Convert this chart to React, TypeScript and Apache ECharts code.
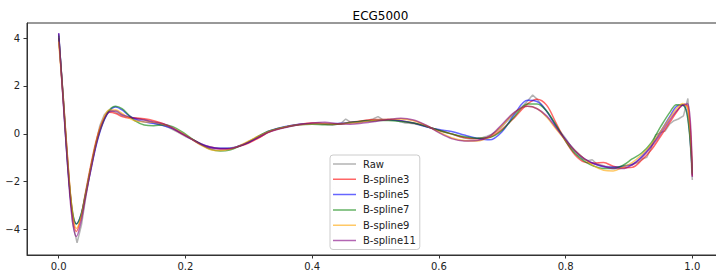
import React, { useEffect, useRef } from "react";
import * as echarts from "echarts";

const TITLE = "ECG5000";
const SERIES_NAMES = ["Raw", "B-spline3", "B-spline5", "B-spline7", "B-spline9", "B-spline11"];
const SERIES_COLORS = ["#808080", "#ff0000", "#0000ff", "#008000", "#ffa500", "#800080"];
const X_TICKS = [0, 0.2, 0.4, 0.6, 0.8, 1.0];
const Y_TICKS = [-4, -2, 0, 2, 4];

const RAW_T = [
  0.0, 0.007, 0.014, 0.022, 0.029, 0.036, 0.043, 0.05, 0.058, 0.065,
  0.072, 0.079, 0.086, 0.094, 0.101, 0.108, 0.115, 0.122, 0.129, 0.137,
  0.144, 0.151, 0.158, 0.165, 0.173, 0.18, 0.187, 0.194, 0.201, 0.209,
  0.216, 0.223, 0.23, 0.237, 0.245, 0.252, 0.259, 0.266, 0.273, 0.281,
  0.288, 0.295, 0.302, 0.309, 0.317, 0.324, 0.331, 0.338, 0.345, 0.353,
  0.36, 0.367, 0.374, 0.381, 0.388, 0.396, 0.403, 0.41, 0.417, 0.424,
  0.432, 0.439, 0.446, 0.453, 0.46, 0.468, 0.475, 0.482, 0.489, 0.496,
  0.504, 0.511, 0.518, 0.525, 0.532, 0.54, 0.547, 0.554, 0.561, 0.568,
  0.576, 0.583, 0.59, 0.597, 0.604, 0.612, 0.619, 0.626, 0.633, 0.64,
  0.647, 0.655, 0.662, 0.669, 0.676, 0.683, 0.691, 0.698, 0.705, 0.712,
  0.719, 0.727, 0.734, 0.741, 0.748, 0.755, 0.763, 0.77, 0.777, 0.784,
  0.791, 0.799, 0.806, 0.813, 0.82, 0.827, 0.835, 0.842, 0.849, 0.856,
  0.863, 0.871, 0.878, 0.885, 0.892, 0.899, 0.906, 0.914, 0.921, 0.928,
  0.935, 0.942, 0.95, 0.957, 0.964, 0.971, 0.978, 0.986, 0.993, 1.0,
];
const RAW_V = [
  4.15, 1.5, -1.3, -3.7, -4.55, -3.8, -2.6, -1.5, -0.5, 0.35,
  0.8, 0.98, 0.95, 0.85, 0.75, 0.7, 0.68, 0.65, 0.62, 0.58,
  0.5, 0.45, 0.4, 0.35, 0.27, 0.18, 0.08, -0.02, -0.12, -0.22,
  -0.32, -0.42, -0.5, -0.55, -0.58, -0.6, -0.6, -0.6, -0.58, -0.54,
  -0.48, -0.42, -0.33, -0.24, -0.14, -0.04, 0.08, 0.15, 0.2, 0.25,
  0.3, 0.33, 0.36, 0.4, 0.42, 0.43, 0.44, 0.45, 0.42, 0.38,
  0.36, 0.4, 0.45, 0.62, 0.5, 0.48, 0.52, 0.55, 0.58, 0.62,
  0.72, 0.6, 0.6, 0.6, 0.57, 0.5, 0.45, 0.44, 0.42, 0.38,
  0.33, 0.28, 0.22, 0.16, 0.1, 0.05, 0.0, -0.06, -0.12, -0.17,
  -0.2, -0.2, -0.18, -0.15, -0.1, -0.02, 0.1, 0.25, 0.45, 0.65,
  0.85, 1.02, 1.2, 1.4, 1.62, 1.45, 1.2, 0.95, 0.68, 0.4,
  0.12, -0.15, -0.42, -0.68, -0.9, -1.05, -1.12, -1.08, -1.25, -1.3,
  -1.35, -1.38, -1.38, -1.36, -1.33, -1.3, -1.27, -1.2, -1.05, -0.98,
  -0.6, -0.05, 0.05, 0.12, 0.4, 0.55, 0.62, 0.75, 1.48, -1.93,
];

const T = [
  0, 0.007, 0.014, 0.021, 0.028, 0.035, 0.042, 0.05, 0.06, 0.07,
  0.08, 0.09, 0.1, 0.11, 0.12, 0.135, 0.15, 0.165, 0.18, 0.195,
  0.21, 0.225, 0.24, 0.255, 0.27, 0.285, 0.3, 0.315, 0.33, 0.345,
  0.36, 0.38, 0.4, 0.42, 0.44, 0.46, 0.48, 0.5, 0.52, 0.54,
  0.56, 0.58, 0.6, 0.62, 0.64, 0.66, 0.68, 0.7, 0.72, 0.74,
  0.755, 0.77, 0.785, 0.8, 0.815, 0.83, 0.845, 0.86, 0.875, 0.89,
  0.905, 0.92, 0.935, 0.95, 0.965, 0.975, 0.985, 0.993, 1.0,
];
const BSPLINE3 = [
  4.0, 1.6, -1.0, -3.2, -4.08, -3.5, -2.5, -1.4, -0.2, 0.55,
  0.9, 0.85, 0.72, 0.66, 0.66, 0.63, 0.55, 0.42, 0.22, 0.0,
  -0.22, -0.42, -0.55, -0.62, -0.62, -0.52, -0.38, -0.18, 0.05, 0.2,
  0.3, 0.4, 0.45, 0.42, 0.4, 0.48, 0.55, 0.6, 0.6, 0.55,
  0.45, 0.32, 0.15, 0.0, -0.15, -0.2, -0.14, 0.2, 0.7, 1.25,
  1.45, 1.2, 0.45, -0.3, -0.88, -1.18, -1.22, -1.2, -1.35, -1.42,
  -1.4, -1.1, -0.68, -0.1, 0.5, 0.9, 1.2, 1.15, -1.75,
];
const BSPLINE5 = [
  4.2, 1.5, -1.2, -3.2, -3.76, -3.4, -2.6, -1.6, -0.4, 0.45,
  0.95, 1.12, 1.0, 0.78, 0.62, 0.5, 0.43, 0.35, 0.22, 0.02,
  -0.22, -0.42, -0.56, -0.6, -0.6, -0.5, -0.35, -0.12, 0.1, 0.22,
  0.32, 0.4, 0.42, 0.42, 0.43, 0.47, 0.52, 0.56, 0.58, 0.55,
  0.45, 0.3, 0.18, 0.1, -0.05, -0.18, -0.25, 0.1, 0.85, 1.4,
  1.35, 0.95, 0.3, -0.25, -0.7, -1.05, -1.25, -1.37, -1.4, -1.36,
  -1.28, -0.95, -0.5, 0.1, 0.75, 1.15, 1.2, 0.7, -1.7,
];
const BSPLINE7 = [
  4.1, 1.6, -1.1, -3.1, -3.76, -3.4, -2.55, -1.5, -0.3, 0.5,
  1.0, 1.15, 1.05, 0.8, 0.55, 0.37, 0.34, 0.38, 0.3, 0.08,
  -0.2, -0.45, -0.65, -0.72, -0.68, -0.52, -0.32, -0.1, 0.1, 0.22,
  0.3, 0.38, 0.4, 0.38, 0.4, 0.47, 0.54, 0.56, 0.56, 0.52,
  0.45, 0.32, 0.15, 0.0, -0.12, -0.18, -0.15, 0.15, 0.75, 1.25,
  1.25, 0.95, 0.35, -0.3, -0.82, -1.15, -1.35, -1.45, -1.45, -1.32,
  -1.05, -0.8, -0.38, 0.3, 0.92, 1.22, 1.2, 0.6, -1.65,
];
const BSPLINE9 = [
  3.85, 1.5, -1.0, -3.1, -3.95, -3.5, -2.6, -1.5, -0.25, 0.6,
  1.0, 1.0, 0.85, 0.68, 0.55, 0.5, 0.48, 0.4, 0.25, 0.03,
  -0.22, -0.48, -0.66, -0.7, -0.64, -0.5, -0.3, -0.1, 0.08, 0.2,
  0.3, 0.38, 0.42, 0.43, 0.42, 0.44, 0.5, 0.56, 0.6, 0.62,
  0.55, 0.35, 0.08, -0.16, -0.28, -0.3, -0.12, 0.35, 0.9, 1.15,
  1.05, 0.7, 0.2, -0.28, -0.7, -1.05, -1.35, -1.52, -1.55, -1.4,
  -1.2, -0.87, -0.45, 0.1, 0.7, 1.05, 1.27, 1.0, -1.7,
];
const BSPLINE11 = [
  4.2, 1.4, -1.3, -3.5, -4.29, -3.7, -2.7, -1.6, -0.35, 0.5,
  0.92, 0.95, 0.8, 0.72, 0.65, 0.58, 0.5, 0.42, 0.25, 0.0,
  -0.22, -0.45, -0.6, -0.63, -0.62, -0.52, -0.35, -0.15, 0.05, 0.18,
  0.28, 0.38, 0.45, 0.48, 0.42, 0.4, 0.45, 0.52, 0.6, 0.65,
  0.58, 0.36, 0.05, -0.2, -0.3, -0.28, -0.1, 0.4, 0.92, 1.15,
  1.05, 0.75, 0.25, -0.25, -0.72, -1.05, -1.25, -1.35, -1.45, -1.45,
  -1.3, -1.0, -0.55, 0.0, 0.6, 0.95, 1.2, 1.25, -1.8,
];

const SPLINES = [BSPLINE3, BSPLINE5, BSPLINE7, BSPLINE9, BSPLINE11];

const LEGEND_LINE_ICON =
  "path://M0 0h0.05v0.05h-0.05z M0 5.25h23v1.5h-23z M22.95 11.95h0.05v0.05h-0.05z";

export default function App() {
  const ref = useRef<HTMLDivElement>(null);
  useEffect(() => {
    if (!ref.current) return;
    const chart = echarts.init(ref.current, null, { renderer: "svg" });
    const font = "DejaVu Sans";
    const spine = "#333";
    const mk = (name: string, color: string, xs: number[], ys: number[], smooth: number | boolean) => ({
      type: "line",
      name,
      data: xs.map((t, i) => [t, ys[i]]),
      showSymbol: false,
      symbol: "none",
      smooth,
      lineStyle: { color, width: 1.5, opacity: 0.6 },
      itemStyle: { color, opacity: 0.6 },
      emphasis: { disabled: true },
    });
    const series: any[] = [mk(SERIES_NAMES[0], SERIES_COLORS[0], RAW_T, RAW_V, false)];
    SPLINES.forEach((vals, k) => {
      series.push(mk(SERIES_NAMES[k + 1], SERIES_COLORS[k + 1], T, vals, 0.35));
    });
    chart.setOption({
      animation: false,
      title: {
        text: TITLE,
        left: 375.5,
        textAlign: "center",
        top: 5,
        textStyle: { fontSize: 12, fontWeight: "normal", color: "#000", fontFamily: font },
      },
      grid: {
        left: 27,
        top: 23,
        right: 6,
        bottom: 23,
        show: true,
        borderColor: spine,
        borderWidth: 1,
        backgroundColor: "rgba(0,0,0,0)",
      },
      xAxis: {
        type: "value",
        min: -0.05,
        max: 1.05,
        axisLine: { show: true, onZero: false, lineStyle: { color: spine, width: 1 } },
        splitLine: { show: false },
        axisTick: { show: true, customValues: X_TICKS, length: 3.5, lineStyle: { color: spine } },
        axisLabel: {
          customValues: X_TICKS,
          formatter: (v: number) => v.toFixed(1),
          margin: 6,
          fontSize: 10,
          color: "#222",
          fontFamily: font,
        },
      },
      yAxis: {
        type: "value",
        min: -5.06,
        max: 4.63,
        axisLine: { show: true, onZero: false, lineStyle: { color: spine, width: 1 } },
        splitLine: { show: false },
        axisTick: { show: true, customValues: Y_TICKS, length: 3.5, lineStyle: { color: spine } },
        axisLabel: {
          customValues: Y_TICKS,
          formatter: (v: number) => (v < 0 ? "\u2212" + Math.abs(v) : String(v)),
          margin: 7,
          fontSize: 10,
          color: "#222",
          fontFamily: font,
        },
      },
      legend: {
        orient: "vertical",
        left: 330,
        top: 155,
        itemWidth: 23,
        itemHeight: 12,
        itemGap: 3.3,
        padding: [3, 4, 3, 3],
        backgroundColor: "rgba(255,255,255,0.8)",
        borderColor: "#cccccc",
        borderWidth: 1,
        borderRadius: 3,
        textStyle: { fontSize: 10, color: "#222", fontFamily: font, padding: [0, 0, 0, 2] },
        data: SERIES_NAMES.map((name) => ({ name, icon: LEGEND_LINE_ICON })),
      },
      series,
    });
    return () => chart.dispose();
  }, []);
  return (
    <div style={{ position: "absolute", left: 0, top: 0, width: 716, height: 278, overflow: "hidden" }}>
      <div ref={ref} style={{ width: 730, height: 278 }} />
    </div>
  );
}
